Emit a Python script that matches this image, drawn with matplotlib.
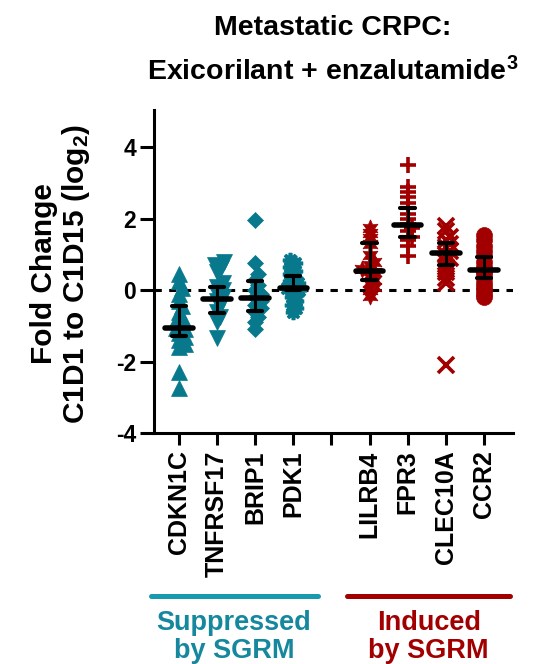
import numpy as np
import matplotlib
matplotlib.use("Agg")
import matplotlib.pyplot as plt
import matplotlib.transforms as mtransforms

plt.rcParams['font.family'] = ['Liberation Sans', 'DejaVu Sans']
plt.rcParams['font.weight'] = 'bold'
plt.rcParams['mathtext.fontset'] = 'custom'
plt.rcParams['mathtext.rm'] = 'Liberation Sans:bold'
plt.rcParams['mathtext.bf'] = 'Liberation Sans:bold'
plt.rcParams['mathtext.default'] = 'rm'

genes = ['CDKN1C', 'TNFRSF17', 'BRIP1', 'PDK1', '', 'LILRB4', 'FPR3', 'CLEC10A', 'CCR2']

cdkn1c = [0.45, 0.25, 0.05, -0.1, -0.3, -0.45, -0.6, -0.75, -0.85, -0.95,
          -1.05, -1.1, -1.2, -1.3, -1.4, -1.5, -1.6, -2.3, -2.75]
tnfrsf17 = [0.78, 0.7, 0.62, 0.5, 0.2, 0.1, 0.0, -0.1, -0.2, -0.3, -0.45,
            -0.6, -0.75, -0.9, -1.35]
brip1 = [1.96, 0.75, 0.45, 0.3, 0.15, 0.0, -0.1, -0.2, -0.3, -0.4, -0.5,
         -0.6, -0.75, -0.9, -1.1]
pdk1 = [0.85, 0.75, 0.65, 0.55, 0.45, 0.35, 0.25, 0.2, 0.12, 0.05, 0.0,
        -0.05, -0.12, -0.2, -0.3, -0.4, -0.5, -0.62]
lilrb4 = [1.75, 1.6, 1.45, 1.3, 1.0, 0.8, 0.7, 0.6, 0.55, 0.5, 0.4, 0.3,
          0.2, 0.1, 0.0, -0.15]
fpr3 = [3.5, 2.9, 2.75, 2.6, 2.45, 2.3, 2.15, 2.0, 1.85, 1.75, 1.65, 1.5,
        1.4, 1.25, 0.95]
clec10a = [1.8, 1.65, 1.5, 1.4, 1.3, 1.2, 1.1, 1.0, 0.9, 0.8, 0.65, 0.5,
           0.35, 0.2, -2.1]
ccr2 = [1.55, 1.4, 1.25, 1.1, 0.95, 0.8, 0.65, 0.55, 0.45, 0.35, 0.2, 0.1,
        0.0, -0.1, -0.2]

# centre line and error-bar limits per gene
centers = [-1.05, -0.24, -0.23, 0.07, 0.55, 1.84, 1.05, 0.58]
lows = [-1.29, -0.64, -0.59, 0.0, 0.30, 1.49, 0.70, 0.33]
highs = [-0.43, 0.09, 0.25, 0.41, 1.33, 2.31, 1.33, 0.92]

teal = '#08798D'
red = '#A20000'

series = [
    (1, cdkn1c, '^', 11.5, teal, 6),
    (2, tnfrsf17, 'v', 11.5, teal, 6),
    (3, brip1, 'D', 8.5, teal, 6),
    (4, pdk1, (8, 2, 0), 11, teal, 5),
    (6, lilrb4, (6, 1, 0), 12.5, red, 5),
    (7, fpr3, '+', 12, red, 5),
    (8, clec10a, 'x', 11, red, 5),
    (9, ccr2, 'o', 11.5, red, 2),
]

fig = plt.figure(figsize=(5.38, 6.64), dpi=100)
ax = fig.add_axes([154 / 538, 1 - 433 / 664, (513 - 154) / 538, (433 - 110) / 664])
ax.set_xlim(0.35, 9.76)
ax.set_ylim(-4, 5.05)


def swarm(vals, pos, dist, maxoff=9):
    # simple deterministic beeswarm in pixel space
    t = ax.transData
    (x0, y0), (x1, y1) = t.transform([(0, 0), (1, 1)])
    sx, sy = x1 - x0, y1 - y0
    vals = np.asarray(vals, dtype=float)
    offs = np.zeros(len(vals))
    placed = []
    cands = [0.0]
    k = 1
    while k * 1.5 <= maxoff:
        cands += [k * 1.5, -k * 1.5]
        k += 1
    for i in np.argsort(vals):
        y = vals[i] * sy
        best, score = 0.0, -1
        for c in cands:
            d = min([np.hypot(c - px, y - py) for px, py in placed] or [1e9])
            if d >= dist:
                best = c
                break
            if d > score:
                best, score = c, d
        offs[i] = best
        placed.append((best, y))
    return pos + offs / sx


ax.axhline(0, color='black', lw=2.2, ls=(0, (2.4, 2.4)), zorder=1)

for (pos, vals, mk, ms, col, dist) in series:
    xs = swarm(vals, pos, dist)
    if mk in ('+', 'x') or mk == (8, 2, 0):
        ax.plot(xs, vals, ls='none', marker=mk, ms=ms, mec=col, mew=2.6, zorder=2)
    else:
        ax.plot(xs, vals, ls='none', marker=mk, ms=ms, mfc=col, mec=col, mew=0.5, zorder=2)

positions = [1, 2, 3, 4, 6, 7, 8, 9]
for pos, c, lo, hi in zip(positions, centers, lows, highs):
    ax.plot([pos, pos], [lo, hi], color='black', lw=2.2, zorder=3)
    ax.plot([pos - 0.19, pos + 0.19], [lo, lo], color='black', lw=3.0, zorder=3,
            solid_capstyle='round')
    ax.plot([pos - 0.19, pos + 0.19], [hi, hi], color='black', lw=3.0, zorder=3,
            solid_capstyle='round')
    ax.plot([pos - 0.36, pos + 0.36], [c, c], color='black', lw=4.0, zorder=4,
            solid_capstyle='round')

for side in ('top', 'right'):
    ax.spines[side].set_visible(False)
for side in ('left', 'bottom'):
    ax.spines[side].set_linewidth(2.2)

ax.set_yticks([-4, -2, 0, 2, 4])
ax.set_yticklabels(['-4', '-2', '0', '2', '4'])
ax.set_xticks(range(1, 10))
ax.set_xticklabels(genes, rotation=90)
ax.tick_params(axis='y', length=10, width=2.2, labelsize=16.5, pad=3)
ax.tick_params(axis='x', length=8.5, width=2.2, labelsize=18, pad=4)

fig.text(61 / 538, 1 - 274 / 664, 'Fold Change\nC1D1 to C1D15 (log$_2$)',
         rotation=90, ha='center', va='center', fontsize=21.5,
         multialignment='center', linespacing=1.1)

fig.text(333 / 538, 1 - 28 / 664, 'Metastatic CRPC:', ha='center', va='center',
         fontsize=20.5)
fig.text(333 / 538, 1 - 72 / 664, 'Exicorilant + enzalutamide$^3$',
         ha='center', va='center', fontsize=20.5)

# gene-group brackets below the axis
trans = mtransforms.blended_transform_factory(ax.transData, fig.transFigure)
ybar = 1 - 596 / 664
ax.plot([0.27, 4.64], [ybar, ybar], color='#1899B0', lw=3.6, transform=trans,
        clip_on=False, solid_capstyle='round')
ax.plot([5.42, 9.67], [ybar, ybar], color=red, lw=3.6, transform=trans,
        clip_on=False, solid_capstyle='round')
ax.text(2.45, 1 - 637 / 664, 'Suppressed\nby SGRM', color='#15889E',
        transform=trans, ha='center', va='center', fontsize=19.5, linespacing=1.15)
ax.text(7.55, 1 - 637 / 664, 'Induced\nby SGRM', color=red,
        transform=trans, ha='center', va='center', fontsize=19.5, linespacing=1.15)

fig.savefig('out.png', dpi=100)
